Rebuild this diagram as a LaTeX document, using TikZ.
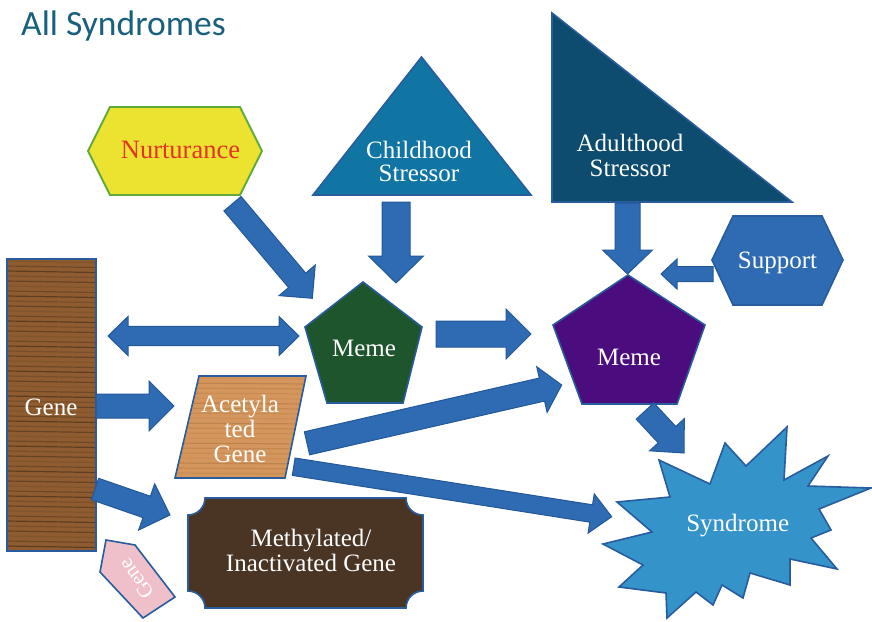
\documentclass[tikz,border=0pt]{standalone}
\usepackage{fontspec}
\setmainfont{Liberation Serif}
\newfontfamily\titlefont{Carlito}
\usetikzlibrary{calc}

\definecolor{titleblue}{RGB}{24,96,125}
\definecolor{arrowblue}{RGB}{46,107,179}
\definecolor{arrowedge}{RGB}{36,88,152}
\definecolor{edgeblue}{RGB}{40,92,158}
\definecolor{nurtyellow}{RGB}{236,226,48}
\definecolor{nurtgreen}{RGB}{96,170,60}
\definecolor{nurtred}{RGB}{226,52,40}
\definecolor{childblue}{RGB}{16,117,163}
\definecolor{adultblue}{RGB}{13,76,110}
\definecolor{supportblue}{RGB}{46,107,179}
\definecolor{purplememe}{RGB}{75,12,125}
\definecolor{greenmeme}{RGB}{30,85,45}
\definecolor{genewood}{RGB}{142,92,48}
\definecolor{acetwood}{RGB}{212,150,92}
\definecolor{methwood}{RGB}{74,52,36}
\definecolor{tagpink}{RGB}{240,192,202}
\definecolor{syndblue}{RGB}{52,148,202}

\tikzset{
  arrowbody/.style={fill=arrowblue, draw=arrowedge, line width=1pt, line join=miter},
  shapeline/.style={draw=edgeblue, line width=1.6pt, line join=miter},
  boxtext/.style={text=white, font=\fontsize{25}{25}\selectfont, align=center, inner sep=0pt},
  grain/.style={line width=1.2pt}
}

% block arrow: shaft half width, head half width, head length, from, to
\newcommand\blockarrow[5]{%
  \coordinate (ba-base) at ($(#5)!#3pt!(#4)$);
  \filldraw[arrowbody] ($(#4)!#1pt!90:(#5)$) -- ($(ba-base)!#1pt!90:(#5)$)
    -- ($(ba-base)!#2pt!90:(#5)$) -- (#5) -- ($(ba-base)!#2pt!-90:(#5)$)
    -- ($(ba-base)!#1pt!-90:(#5)$) -- ($(#4)!#1pt!-90:(#5)$) -- cycle;
}
% block arrow with two heads
\newcommand\doublearrow[5]{%
  \coordinate (da-a) at ($(#4)!#3pt!(#5)$);
  \coordinate (da-b) at ($(#5)!#3pt!(#4)$);
  \filldraw[arrowbody] (#4) -- ($(da-a)!#2pt!90:(#5)$) -- ($(da-a)!#1pt!90:(#5)$)
    -- ($(da-b)!#1pt!90:(#5)$) -- ($(da-b)!#2pt!90:(#5)$) -- (#5)
    -- ($(da-b)!#2pt!-90:(#5)$) -- ($(da-b)!#1pt!-90:(#5)$)
    -- ($(da-a)!#1pt!-90:(#5)$) -- ($(da-a)!#2pt!-90:(#5)$) -- cycle;
}

\begin{document}
\begin{tikzpicture}[x=1pt, y=-1pt]
    \useasboundingbox (0,0) rectangle (872,621);

    % Title
    \node[anchor=base west, inner sep=0pt, text=titleblue,
          font=\titlefont\fontsize{35.5}{40}\selectfont] (title) at (21,35) {All Syndromes};

    % Nurturance
    \filldraw[fill=nurtyellow, draw=nurtgreen, line width=1.8pt]
        (88,151) -- (110,107) -- (240,107) -- (262,151) -- (240,195) -- (110,195) -- cycle;
    \node[boxtext, text=nurtred, anchor=base, font=\fontsize{26.5}{25}\selectfont]
        (nurt) at (180.5,158.3) {Nurturance};

    % Stressors (base anchor = last line)
    \filldraw[shapeline, fill=childblue] (421.5,57) -- (531,195) -- (313,195) -- cycle;
    \node[boxtext, anchor=base, font=\fontsize{25}{23}\selectfont] (child) at (419,181) {Childhood\\Stressor};
    \filldraw[shapeline, fill=adultblue] (552,13) -- (792,202) -- (552,202) -- cycle;
    \node[boxtext, anchor=base] (adult) at (630,176.7) {Adulthood\\Stressor};

    % Support
    \filldraw[shapeline, fill=supportblue]
        (712,260) -- (733,216) -- (822,216) -- (843,260) -- (822,305) -- (733,305) -- cycle;
    \node[boxtext, anchor=base] (support) at (777.5,268.3) {Support};

    % Memes
    \filldraw[shapeline, fill=greenmeme]
        (363,282) -- (422,327) -- (403,403) -- (327,403) -- (305,327) -- cycle;
    \node[boxtext, anchor=base] (memeA) at (364,356.7) {Meme};
    \filldraw[shapeline, fill=purplememe]
        (628,275) -- (705,325) -- (677,404) -- (582,404) -- (553,325) -- cycle;
    \node[boxtext, anchor=base] (memeB) at (629,365.7) {Meme};

    % Gene
    \begin{scope}
        \clip (7,259) rectangle (96,551);
        \fill[genewood] (7,259) rectangle (96,551);
        \foreach \i in {0,...,58} {
            \pgfmathsetmacro\op{0.12+0.09*mod(\i*7,5)}
            \draw[grain, draw=black!70!genewood, opacity=\op] (7,{261+5*\i}) -- (96,{262.5+5*\i});
        }
    \end{scope}
    \draw[shapeline] (7,259) rectangle (96,551);
    \node[boxtext, anchor=base] (gene) at (51,415.7) {Gene};

    % Acetylated gene
    \begin{scope}
        \clip (199,376) -- (306,376) -- (285,478) -- (175,478) -- cycle;
        \fill[acetwood] (170,370) rectangle (310,480);
        \foreach \i in {0,...,21} {
            \pgfmathsetmacro\op{0.12+0.08*mod(\i*3,4)}
            \draw[grain, draw=brown!80!black, opacity=\op] (170,{378+5*\i}) -- (310,{379+5*\i});
        }
    \end{scope}
    \draw[shapeline] (199,376) -- (306,376) -- (285,478) -- (175,478) -- cycle;
    \node[boxtext, anchor=base] (acet) at (240,462.7) {Acetyla\\ted\\Gene};

    % Methylated gene
    \filldraw[shapeline, fill=methwood]
        (205,498) -- (406,498) arc[start angle=180, end angle=90, radius=17]
        -- (423,591) arc[start angle=270, end angle=180, radius=17]
        -- (205,608) arc[start angle=0, end angle=-90, radius=17]
        -- (188,515) arc[start angle=90, end angle=0, radius=17] -- cycle;
    \node[boxtext, anchor=base] (meth) at (311,571.7) {Methylated/\\Inactivated Gene};

    % Small gene tag
    \filldraw[shapeline, fill=tagpink]
        (106,540) -- (135,545) -- (175,597) -- (143,618) -- (100,572) -- cycle;
    \node[boxtext, rotate=126, font=\fontsize{21}{24}\selectfont] (tag) at (136,579) {Gene};

    % Syndrome
    \filldraw[shapeline, fill=syndblue]
        (659,460) -- (710,484) -- (725,443) -- (746,466) -- (787,427) -- (784,480)
        -- (828,456) -- (808,486) -- (871,488) -- (819,509) -- (831,530) -- (811,538)
        -- (837,569) -- (790,559) -- (790,585) -- (750,573) -- (743,598) -- (722,585)
        -- (713,605) -- (696,592) -- (667,618) -- (666,593) -- (619,587) -- (643,565)
        -- (603,544) -- (652,532) -- (617,502) -- (670,497) -- cycle;
    \node[boxtext, anchor=base] (synd) at (737.7,531.7) {Syndrome};

    % Arrow ends
    \coordinate (nurt-out) at (232.5,203.7);  \coordinate (memeA-nw) at (312.3,298.3);
    \coordinate (child-out) at (396,202);     \coordinate (memeA-n) at (396,283);
    \coordinate (memeA-out) at (436,334);     \coordinate (memeB-w) at (531,334);
    \coordinate (gene-ne) at (108,336);       \coordinate (memeA-w) at (299,336);
    \coordinate (gene-e) at (96,406);         \coordinate (acet-w) at (174,406);
    \coordinate (gene-se) at (95,489);        \coordinate (meth-nw) at (170,515);
    \coordinate (adult-out) at (627.5,203);   \coordinate (memeB-n) at (627.5,274);
    \coordinate (support-out) at (713,274);   \coordinate (memeB-ne) at (661,274);
    \coordinate (memeB-out) at (645,411);     \coordinate (synd-nw) at (684,453);
    \coordinate (acet-ne) at (307,443.3);     \coordinate (memeB-sw) at (561.7,385);
    \coordinate (acet-se) at (293.7,466.7);   \coordinate (synd-w) at (611.7,516.7);

    % Draw arrows
    \blockarrow{11.2}{23.7}{23.5}{nurt-out}{memeA-nw}
    \blockarrow{14}{27.5}{27}{child-out}{memeA-n}
    \blockarrow{13}{25}{25}{memeA-out}{memeB-w}
    \doublearrow{9.7}{19.5}{20}{gene-ne}{memeA-w}
    \blockarrow{12}{25}{25}{gene-e}{acet-w}
    \blockarrow{11.3}{24.5}{24.7}{gene-se}{meth-nw}
    \blockarrow{12.5}{25}{24}{adult-out}{memeB-n}
    \blockarrow{7.5}{15}{16}{support-out}{memeB-ne}
    \blockarrow{12}{23.7}{25}{memeB-out}{synd-nw}
    \blockarrow{11.8}{23.4}{20.3}{acet-ne}{memeB-sw}
    \blockarrow{8.8}{19.9}{20.8}{acet-se}{synd-w}
\end{tikzpicture}
\end{document}
